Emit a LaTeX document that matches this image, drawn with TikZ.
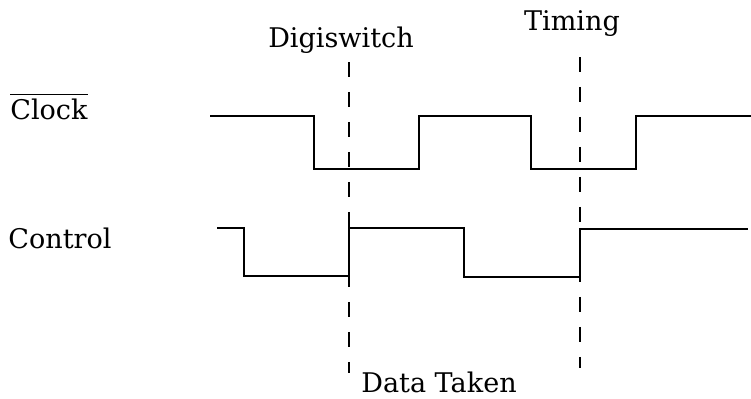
\documentclass[tikz,border=0pt]{standalone}
\usepackage{amsmath}
\usepackage{fontspec}
\setmainfont{DejaVu Serif}

\tikzset{
  wave/.style={line width=1.6pt, line join=miter},
  marker/.style={line width=1.1pt, dash pattern=on 0.3cm off 0.3cm},
  sig/.style={font=\fontsize{15.4}{18}\selectfont, inner sep=0pt, anchor=base}
}

\begin{document}
\begin{tikzpicture}[x=0.02cm, y=-0.02cm]
        \useasboundingbox (0,0) rectangle (751,399);

        % signal names
        \node[sig, anchor=base west] (clk) at (10,119) {$\overline{\text{Clock}}$};
        \node[sig, anchor=base west] (ctl) at (8,248) {Control};

        % sampling instants
        \node[sig] (dsw) at (341,48) {Digiswitch};
        \node[sig] (tim) at (572,31) {Timing};
        \node[sig] (dat) at (439,392) {Data Taken};
        \coordinate (d1) at (349,62);
        \coordinate (d2) at (349,373);
        \coordinate (t1) at (580,57);
        \coordinate (t2) at (580,368);
        \draw[marker] (d1) -- (d2);
        \draw[marker] (t1) -- (t2);

        % waveforms
        \draw[wave] (210,116) -| (314,169) -| (419,116) -| (531,169) -| (636,116) -- (751,116);
        \draw[wave] (217,228) -| (244,276) -| (349,228) -| (464,277) -| (580,229) -- (748,229);
\end{tikzpicture}
\end{document}
